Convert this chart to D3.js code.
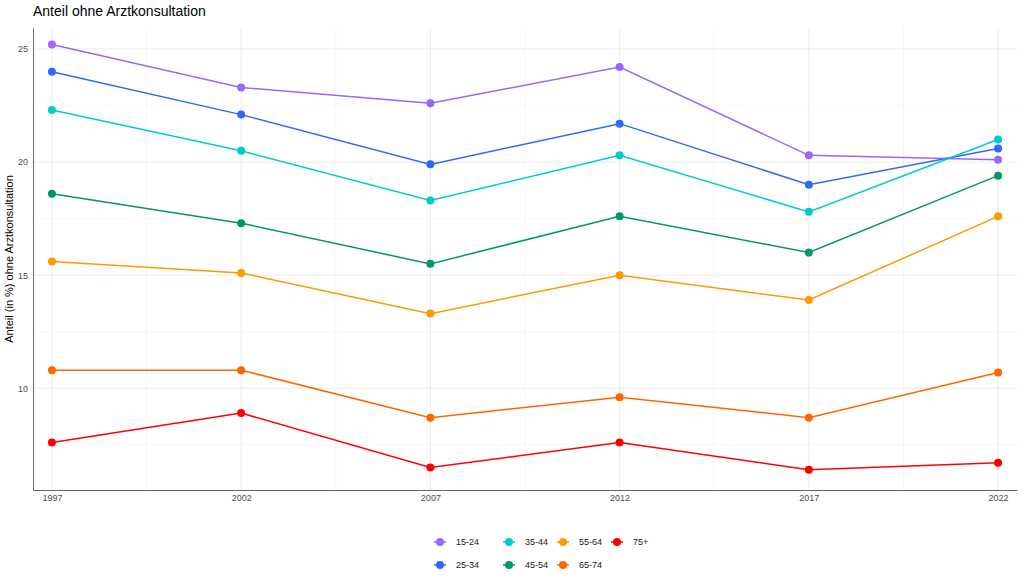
<!DOCTYPE html>
<html>
<head>
<meta charset="utf-8">
<script src="https://cdn.jsdelivr.net/npm/d3@7"></script>
<style>
  body { margin: 0; background: #fff; font-family: "Liberation Sans", Arial, sans-serif; }
</style>
</head>
<body>
<script>
// data
var years = [1997, 2002, 2007, 2012, 2017, 2022];
var groups = ["15-24", "25-34", "35-44", "45-54", "55-64", "65-74", "75+"];
var colors = ["#9966ff", "#3366ff", "#00cccc", "#009966", "#ff9900", "#ff6600", "#ff0000"];
var v1524 = [25.2, 23.3, 22.6, 24.2, 20.3, 20.1];
var v2534 = [24.0, 22.1, 19.9, 21.7, 19.0, 20.6];
var v3544 = [22.3, 20.5, 18.3, 20.3, 17.8, 21.0];
var v4554 = [18.6, 17.3, 15.5, 17.6, 16.0, 19.4];
var v5564 = [15.6, 15.1, 13.3, 15.0, 13.9, 17.6];
var v6574 = [10.8, 10.8, 8.7, 9.6, 8.7, 10.7];
var v75 = [7.6, 8.9, 6.5, 7.6, 6.4, 6.7];
var yTicks = [10, 15, 20, 25];

var series = [v1524, v2534, v3544, v4554, v5564, v6574, v75].map(function(vals, i) {
  return {name: groups[i], color: colors[i], values: vals.map(function(v, j) { return {x: years[j], y: v}; })};
});

var width = 1024, height = 585;
var margin = {top: 28, right: 7, bottom: 95, left: 33};

var svg = d3.select("body").append("svg")
    .attr("width", width)
    .attr("height", height);

var xScale = d3.scaleLinear().domain([1996.5, 2022.5]).range([margin.left, width - margin.right]);
var yScale = d3.scaleLinear().domain([5.5, 25.93]).range([height - margin.bottom, margin.top]);

// grid
var grid = svg.append("g");
var minorX = d3.range(1999.5, 2022, 5);
var minorY = [7.5, 12.5, 17.5, 22.5];
grid.selectAll(".mx").data(minorX).enter().append("line")
    .attr("x1", function(d) { return xScale(d); }).attr("x2", function(d) { return xScale(d); })
    .attr("y1", margin.top).attr("y2", height - margin.bottom)
    .attr("stroke", "#f2f2f2").attr("stroke-width", 0.6);
grid.selectAll(".my").data(minorY).enter().append("line")
    .attr("x1", margin.left).attr("x2", width - margin.right)
    .attr("y1", function(d) { return yScale(d); }).attr("y2", function(d) { return yScale(d); })
    .attr("stroke", "#f2f2f2").attr("stroke-width", 0.6);
grid.selectAll(".gx").data(years).enter().append("line")
    .attr("x1", function(d) { return xScale(d); }).attr("x2", function(d) { return xScale(d); })
    .attr("y1", margin.top).attr("y2", height - margin.bottom)
    .attr("stroke", "#ebebeb").attr("stroke-width", 1);
grid.selectAll(".gy").data(yTicks).enter().append("line")
    .attr("x1", margin.left).attr("x2", width - margin.right)
    .attr("y1", function(d) { return yScale(d); }).attr("y2", function(d) { return yScale(d); })
    .attr("stroke", "#ebebeb").attr("stroke-width", 1);

// axes (no tick marks, only the axis lines)
var xAxis = svg.append("g")
    .attr("transform", "translate(0," + (height - margin.bottom) + ")")
    .call(d3.axisBottom(xScale).tickValues(years).tickFormat(d3.format("d")).tickSize(0).tickPadding(5));
var yAxis = svg.append("g")
    .attr("transform", "translate(" + margin.left + ",0)")
    .call(d3.axisLeft(yScale).tickValues(yTicks).tickSize(0).tickPadding(5));
[xAxis, yAxis].forEach(function(a) {
  a.select(".domain").attr("stroke", "#666").attr("stroke-width", 1);
  a.selectAll("text").attr("fill", "#4d4d4d").style("font-size", "9px")
    .style("font-family", "'Liberation Sans', Arial, sans-serif");
});

// lines and points
var line = d3.line()
    .x(function(d) { return xScale(d.x); })
    .y(function(d) { return yScale(d.y); });

var g = svg.append("g");
series.forEach(function(s) {
  g.append("path")
      .datum(s.values)
      .attr("d", line)
      .attr("fill", "none")
      .attr("stroke", s.color)
      .attr("stroke-width", 1.5);
  g.selectAll(null).data(s.values).enter().append("circle")
      .attr("cx", function(d) { return xScale(d.x); })
      .attr("cy", function(d) { return yScale(d.y); })
      .attr("r", 4)
      .attr("fill", s.color);
});

// title
svg.append("text")
    .attr("x", 33).attr("y", 16)
    .style("font-size", "14px")
    .attr("fill", "#000")
    .text("Anteil ohne Arztkonsultation");

// y title
svg.append("text")
    .attr("transform", "translate(13," + ((margin.top + height - margin.bottom) / 2) + ") rotate(-90)")
    .attr("text-anchor", "middle")
    .style("font-size", "11px")
    .attr("fill", "#000")
    .text("Anteil (in %) ohne Arztkonsultation");

// legend: two rows, column-major order
var legendCols = [440, 509, 563, 617];
var legendRows = [542, 565];
var leg = svg.append("g");
series.forEach(function(s, i) {
  var cx = legendCols[Math.floor(i / 2)], cy = legendRows[i % 2];
  var item = leg.append("g");
  item.append("line").attr("x1", cx - 6).attr("x2", cx + 6).attr("y1", cy).attr("y2", cy)
      .attr("stroke", s.color).attr("stroke-width", 1.5);
  item.append("circle").attr("cx", cx).attr("cy", cy).attr("r", 4).attr("fill", s.color);
  item.append("text").attr("x", cx + 16).attr("y", cy).attr("dy", "0.35em")
      .style("font-size", "9px").style("font-weight", "normal").attr("fill", "#1a1a1a").text(s.name);
});
</script>
</body>
</html>
